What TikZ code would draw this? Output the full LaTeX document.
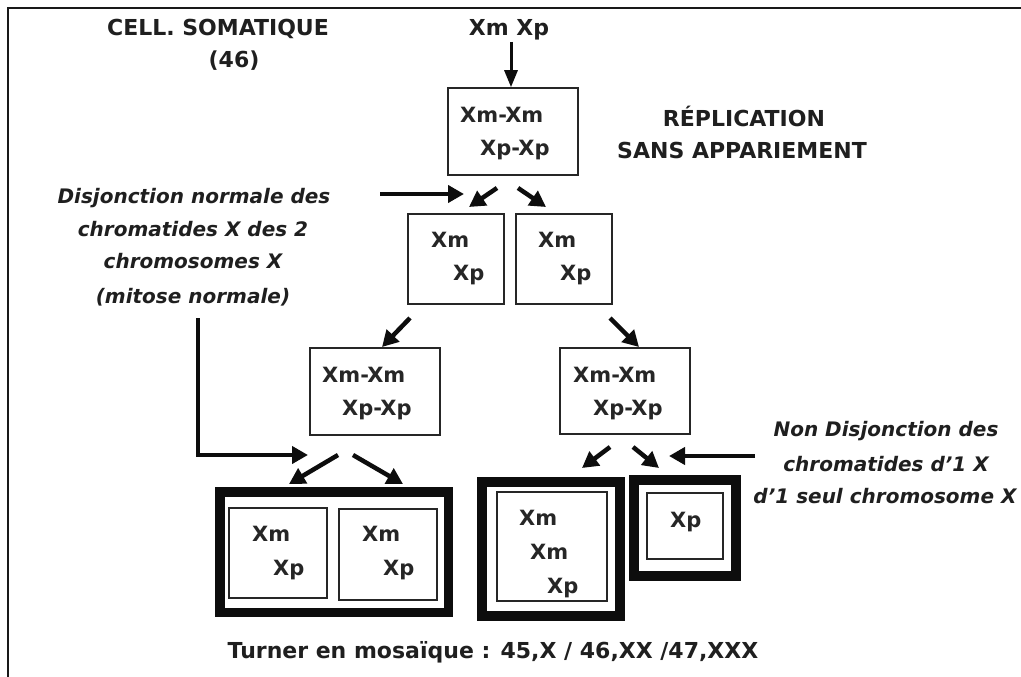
\documentclass[tikz,border=0pt]{standalone}
\usepackage{fontspec}
\setmainfont{DejaVu Sans}[BoldFont={DejaVu Sans Bold},ItalicFont={DejaVu Sans Oblique},BoldItalicFont={DejaVu Sans Bold Oblique}]
\usetikzlibrary{arrows.meta}
\newcommand{\sq}{\char39\relax}
\begin{document}
\begin{tikzpicture}[x=1pt,y=-1pt,
  head/.style={font=\fontsize{22}{26}\selectfont\bfseries, inner sep=0, anchor=base, text=black!88},
  lab/.style={font=\fontsize{21}{25}\selectfont\bfseries, inner sep=0, anchor=base west, text=black!85},
  note/.style={font=\fontsize{20}{24}\selectfont\bfseries\itshape, inner sep=0, anchor=base, text=black!88},
  box/.style={draw=black!85, line width=1.6, inner sep=0, rectangle},
  thickframe/.style={draw=black!95, line width=9.5, inner sep=0, rectangle},
  arr/.style={line width=4.5, draw=black!95, -{Triangle[length=16,width=17]}},
  thinarr/.style={line width=3, draw=black!95, -{Triangle[length=17,width=13]}},
  border/.style={line width=2.6, draw=black!90}]
\useasboundingbox (0,0) rectangle (1021,677);
% outer border
\coordinate (tr) at (1021,8);
\coordinate (tl) at (8,8);
\coordinate (bl) at (8,677);
\draw[border] (tr) -- (tl) -- (bl);

% headings
\node[head] (cell) at (218,36) {CELL. SOMATIQUE};
\node[head] (n46) at (234,68) {(46)};
\node[head] (xmxp) at (509,36) {Xm Xp};
\node[head] (rep1) at (744,126) {RÉPLICATION};
\node[head] (rep2) at (742,158) {SANS APPARIEMENT};

% box 1
\node[box, minimum width=130, minimum height=87] (b1) at (513,131.5) {};
\node[lab] (b1a) at (460,122) {Xm-Xm};
\node[lab] (b1b) at (480,155) {Xp-Xp};
\coordinate (a0s) at (511,42);
\draw[thinarr] (a0s) -- (b1.north -| a0s);

% row 2
\node[box, minimum width=96, minimum height=90] (b2L) at (456,259) {};
\node[lab] (b2La) at (431,247.5) {Xm};
\node[lab] (b2Lb) at (453,280.5) {Xp};
\node[box, minimum width=96, minimum height=90] (b2R) at (564,259) {};
\node[lab] (b2Ra) at (538,247.5) {Xm};
\node[lab] (b2Rb) at (560,280.5) {Xp};

\coordinate (d1s) at (497,188); \coordinate (d1e) at (469,207);
\coordinate (d2s) at (518,188); \coordinate (d2e) at (546,207);
\draw[arr] (d1s) -- (d1e);
\draw[arr] (d2s) -- (d2e);

% left note
\node[note] (ln1) at (194,203.5) {Disjonction normale des};
\node[note] (ln2) at (193,236.5) {chromatides X des 2};
\node[note] (ln3) at (193,268.5) {chromosomes X};
\node[note] (ln4) at (193,303.5) {(mitose normale)};
\coordinate (h1s) at (380,194); \coordinate (h1e) at (464,194);
\draw[arr] (h1s) -- (h1e);

% row 3
\node[box, minimum width=130, minimum height=87] (b3L) at (375,391.5) {};
\node[lab] (b3La) at (322,382.5) {Xm-Xm};
\node[lab] (b3Lb) at (342,415.5) {Xp-Xp};
\node[box, minimum width=130, minimum height=86] (b4R) at (625,391) {};
\node[lab] (b4Ra) at (573,382.5) {Xm-Xm};
\node[lab] (b4Rb) at (593,415.5) {Xp-Xp};

\coordinate (d3s) at (410,318); \coordinate (d3e) at (382,347);
\coordinate (d4s) at (610,318); \coordinate (d4e) at (639,347);
\draw[arr] (d3s) -- (d3e);
\draw[arr] (d4s) -- (d4e);

% bent arrow from left note
\coordinate (bs) at (198,318);
\coordinate (bk) at (198,455);
\coordinate (be) at (308,455);
\draw[arr] (bs) -- (bk) -- (be);

% bottom left arrows
\coordinate (d5s) at (338,455); \coordinate (d5e) at (289,484);
\coordinate (d6s) at (353,455); \coordinate (d6e) at (403,484);
\draw[arr] (d5s) -- (d5e);
\draw[arr] (d6s) -- (d6e);

% bottom left frame
\node[thickframe, minimum width=228.5, minimum height=120.5] (fL) at (334,552) {};
\node[box, minimum width=98, minimum height=90] (iL1) at (278,553) {};
\node[lab] (iL1a) at (252,541.5) {Xm};
\node[lab] (iL1b) at (273,575.5) {Xp};
\node[box, minimum width=98, minimum height=91] (iL2) at (388,554.5) {};
\node[lab] (iL2a) at (362,541.5) {Xm};
\node[lab] (iL2b) at (383,575.5) {Xp};

% bottom right arrows
\coordinate (d7s) at (610,447); \coordinate (d7e) at (582,468);
\coordinate (d8s) at (633,447); \coordinate (d8e) at (659,468);
\draw[arr] (d7s) -- (d7e);
\draw[arr] (d8s) -- (d8e);
\coordinate (h2s) at (755,456); \coordinate (h2e) at (669,456);
\draw[arr] (h2s) -- (h2e);

% bottom right frames
\node[thickframe, minimum width=138, minimum height=134] (fM) at (551,549) {};
\node[box, minimum width=110, minimum height=109] (iM) at (552,546.5) {};
\node[lab] (iMa) at (519,525.5) {Xm};
\node[lab] (iMb) at (530,559.5) {Xm};
\node[lab] (iMc) at (547,593.5) {Xp};
\node[thickframe, minimum width=102, minimum height=96] (fR) at (685,528) {};
\node[box, minimum width=76, minimum height=66] (iR) at (685,526) {};
\node[lab] (iRa) at (670,527.5) {Xp};

% right note
\node[note] (rn1) at (886,436.5) {Non Disjonction des};
\node[note] (rn2) at (886,471.5) {chromatides d\sq1 X};
\node[note] (rn3) at (885,503.5) {d\sq1 seul chromosome X};

% bottom caption
\node[head] (turner) at (493,658) {Turner en mosaïque : 45,X / 46,XX /47,XXX};
\end{tikzpicture}
\end{document}
